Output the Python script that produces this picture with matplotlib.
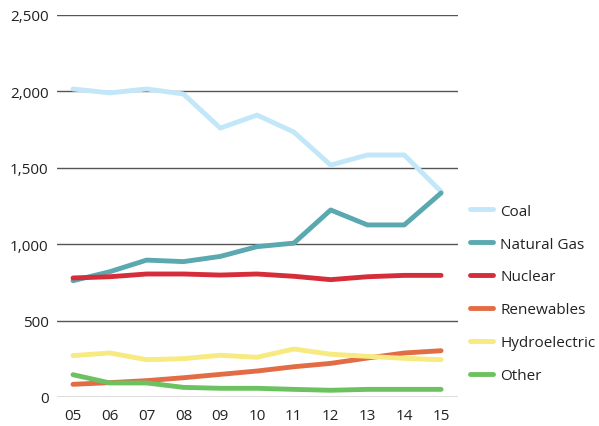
import matplotlib.pyplot as plt

plt.rcParams['font.family'] = ['Open Sans', 'DejaVu Sans']

years = ['05', '06', '07', '08', '09', '10', '11', '12', '13', '14', '15']
coal = [2016, 1990, 2016, 1983, 1760, 1845, 1734, 1518, 1584, 1584, 1345]
natural_gas = [761, 820, 896, 886, 920, 984, 1007, 1224, 1126, 1126, 1335]
nuclear = [779, 787, 805, 805, 798, 805, 790, 768, 787, 796, 796]
renewables = [83, 94, 107, 126, 148, 170, 198, 220, 255, 288, 303]
hydro = [271, 288, 244, 251, 273, 260, 314, 280, 266, 253, 244]
other = [146, 92, 92, 63, 57, 57, 50, 44, 50, 50, 50]

series = [
    ('Coal', coal, '#c2e7f9'),
    ('Natural Gas', natural_gas, '#5aa8b0'),
    ('Nuclear', nuclear, '#d52d3a'),
    ('Renewables', renewables, '#e26d45'),
    ('Hydroelectric', hydro, '#f6ea80'),
    ('Other', other, '#6cc160'),
]

fig = plt.figure(figsize=(5.99, 4.27), dpi=100)
ax = fig.add_axes([57 / 599, 1 - 398 / 427, (458 - 57) / 599, (398 - 16) / 427])

x = list(range(len(years)))
for name, vals, col in series:
    ax.plot(x, vals, color=col, lw=3.5, label=name, solid_capstyle='round', zorder=3)

ax.set_ylim(0, 2500)
ax.set_xlim(-0.435, 10.46)
ax.set_yticks([0, 500, 1000, 1500, 2000, 2500])
ax.set_yticklabels(['0', '500', '1,000', '1,500', '2,000', '2,500'])
ax.set_xticks(x)
ax.set_xticklabels(years)
ax.grid(axis='y', color='#555555', lw=1.0)
ax.set_axisbelow(True)
for s in ax.spines.values():
    s.set_visible(False)
ax.tick_params(length=0, labelsize=11, colors='#222222')
ax.tick_params(axis='y', pad=6)
ax.tick_params(axis='x', pad=8)

fig.legend(loc='upper left', bbox_to_anchor=(462 / 599, 1 - 197 / 427), frameon=False,
           fontsize=11, handlelength=1.55, handletextpad=0.45, labelspacing=1.17,
           borderpad=0, labelcolor='#222222')

fig.savefig('out.png', dpi=100)
